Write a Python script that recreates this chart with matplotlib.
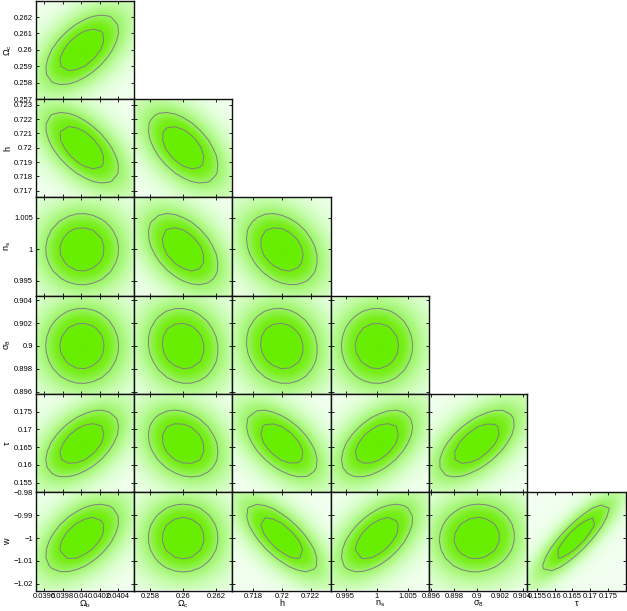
import numpy as np
import matplotlib
matplotlib.use("Agg")
import matplotlib.pyplot as plt
from matplotlib.colors import LinearSegmentedColormap
from matplotlib.ticker import FixedLocator, NullFormatter

plt.rcParams['font.family'] = ['Liberation Sans', 'DejaVu Sans']
plt.rcParams['mathtext.default'] = 'regular'

# ---- data ----
param_labels = [r'$\Omega_b$', r'$\Omega_c$', 'h', r'$n_s$', r'$\sigma_8$', r'$\tau$', 'w']
param_means = [0.04001, 0.26, 0.72, 1.0, 0.9, 0.166, -1.0]
param_sigmas = [0.00016, 0.00086, 0.0010, 0.0023, 0.00133, 0.0038, 0.0060]
param_ranges = [(0.039506, 0.040574), (0.257, 0.263), (0.71654, 0.7234),
                (0.9926, 1.0083), (0.8958, 0.9044), (0.1523, 0.180), (-1.0229, -0.980)]
# correlation of parameter k+1 with parameters 0..k
corr_rows = [
    [0.55],
    [-0.58, -0.52],
    [0.0, -0.45, -0.3],
    [0.0, -0.1, -0.1, 0.0],
    [0.5, -0.25, -0.55, 0.5, 0.6],
    [0.5, 0.0, -0.7, 0.55, 0.05, 0.85],
]
xtick_vals = [[0.0396, 0.0398, 0.04, 0.0402, 0.0404],
              [0.258, 0.26, 0.262],
              [0.718, 0.72, 0.722],
              [0.995, 1.0, 1.005],
              [0.896, 0.898, 0.9, 0.902, 0.904],
              [0.155, 0.16, 0.165, 0.17, 0.175],
              []]
xtick_labels = [['0.0396', '0.0398', '0.04', '0.0402', '0.0404'],
                ['0.258', '0.26', '0.262'],
                ['0.718', '0.72', '0.722'],
                ['0.995', '1', '1.005'],
                ['0.896', '0.898', '0.9', '0.902', '0.904'],
                ['0.155', '0.16', '0.165', '0.17', '0.175'],
                []]
ytick_vals = [[],
              [0.257, 0.258, 0.259, 0.26, 0.261, 0.262],
              [0.717, 0.718, 0.719, 0.72, 0.721, 0.722, 0.723],
              [0.995, 1.0, 1.005],
              [0.896, 0.898, 0.9, 0.902, 0.904],
              [0.155, 0.16, 0.165, 0.17, 0.175],
              [-1.02, -1.01, -1.0, -0.99, -0.98]]
ytick_labels = [[],
                ['0.257', '0.258', '0.259', '0.26', '0.261', '0.262'],
                ['0.717', '0.718', '0.719', '0.72', '0.721', '0.722', '0.723'],
                ['0.995', '1', '1.005'],
                ['0.896', '0.898', '0.9', '0.902', '0.904'],
                ['0.155', '0.16', '0.165', '0.17', '0.175'],
                ['\u22121.02', '\u22121.01', '\u22121', '\u22120.99', '\u22120.98']]
contour_chi2 = [2.30, 6.17]   # 68% and 95% 2D levels

# ---- style ----
cmap = LinearSegmentedColormap.from_list('grn', [
    (0.0, '#f2fff0'), (0.15, '#ddffd2'), (0.35, '#bffba0'),
    (0.55, '#9af464'), (0.72, '#7aee1c'), (0.85, '#69ee04'), (1.0, '#66ee00')])

W, H = 627, 611
fig = plt.figure(figsize=(W / 100, H / 100), dpi=100)
left = 35.7 / W
top = 1 - 0.7 / H
pw = 98.3 / W
ph = 98.3 / H
n = len(param_labels)
fs = 5.5

for i in range(1, n):
    for j in range(0, i):
        ax = fig.add_axes([left + j * pw, top - i * ph, pw, ph])
        x0, x1 = param_ranges[j]
        y0, y1 = param_ranges[i]
        mx, my = param_means[j], param_means[i]
        sx, sy = param_sigmas[j], param_sigmas[i]
        rho = corr_rows[i - 1][j]

        def chi2(X, Y):
            u = (X - mx) / sx
            v = (Y - my) / sy
            return (u * u - 2 * rho * u * v + v * v) / (1 - rho * rho)

        # fine grid shading
        xs = np.linspace(x0, x1, 200)
        ys = np.linspace(y0, y1, 200)
        X, Y = np.meshgrid(xs, ys)
        f = np.exp(-0.5 * chi2(X, Y))
        ax.imshow(f ** 0.2, extent=[x0, x1, y0, y1], origin='lower', aspect='auto',
                  cmap=cmap, vmin=0, vmax=1, interpolation='bilinear')
        # coarse grid contours
        xc = np.linspace(x0, x1, 13)
        yc = np.linspace(y0, y1, 13)
        Xc, Yc = np.meshgrid(xc, yc)
        ax.contour(Xc, Yc, chi2(Xc, Yc), levels=contour_chi2,
                   colors='#808080', linewidths=0.7)
        ax.set_xlim(x0, x1)
        ax.set_ylim(y0, y1)

        ax.xaxis.set_major_locator(FixedLocator(xtick_vals[j]))
        ax.yaxis.set_major_locator(FixedLocator(ytick_vals[i]))
        ax.tick_params(direction='in', length=2.2, width=0.6, top=True, right=True,
                       labelsize=fs, pad=2, colors='black')
        if i == n - 1:
            ax.set_xticklabels(xtick_labels[j])
        else:
            ax.xaxis.set_major_formatter(NullFormatter())
        if j == 0:
            ax.set_yticklabels(ytick_labels[i])
        else:
            ax.yaxis.set_major_formatter(NullFormatter())
        for sp in ax.spines.values():
            sp.set_linewidth(1.0)
            sp.set_color('#111111')

# axis titles
for j in range(n - 1):
    fig.text(left + (j + 0.5) * pw, 7 / H, param_labels[j], ha='center', va='center',
             fontsize=6.5)
for i in range(1, n):
    fig.text(8 / W, top - (i - 0.5) * ph, param_labels[i], ha='center', va='center',
             rotation=90, fontsize=6.5)

fig.savefig('out.png', dpi=100)
